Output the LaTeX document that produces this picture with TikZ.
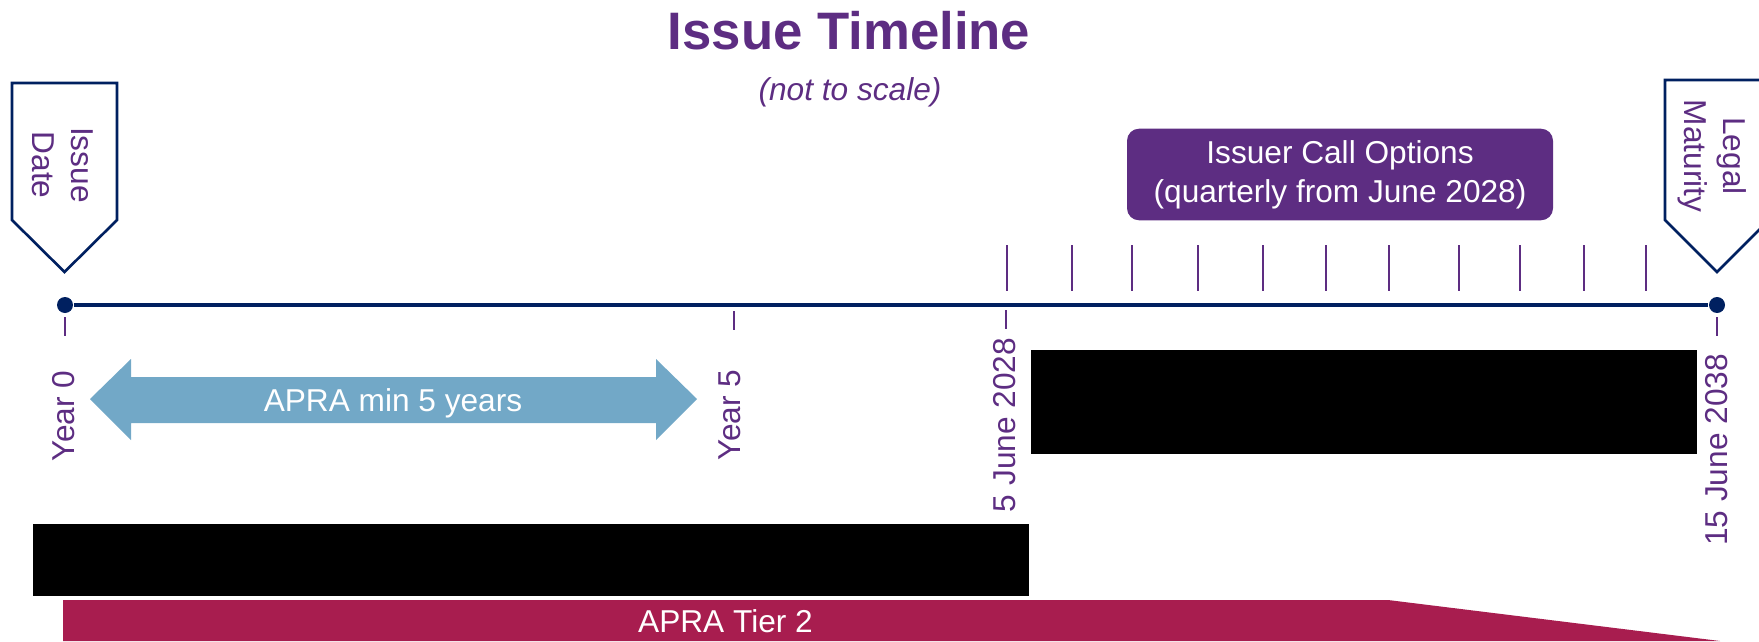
\documentclass[tikz,border=0pt]{standalone}
\usepackage{fontspec}
\setmainfont{Liberation Sans}
\definecolor{purp}{RGB}{93,45,130}
\definecolor{navy}{RGB}{0,32,96}
\definecolor{skyarrow}{RGB}{114,168,199}
\definecolor{tierred}{RGB}{168,29,79}

\begin{document}
\begin{tikzpicture}
        \tikzstyle{every node}=[font=\fontsize{9}{11}\selectfont,text=purp]
        \tikzstyle{flag}=[draw=navy,line width=0.75pt,fill=white]
        \tikzstyle{flaglabel}=[rotate=-90,align=center]
        \tikzstyle{datelabel}=[rotate=90]
        \tikzstyle{notch}=[purp,line width=0.6pt]
        \tikzstyle{enddot}=[circle,fill=navy,inner sep=0pt,minimum size=0.16cm]
        \clip (0,0) rectangle (17.59,-6.41);
        \node[anchor=base,font=\fontsize{15}{18}\selectfont\bfseries] (title) at (8.49,-0.50) {Issue Timeline};
        \node[anchor=base,font=\fontsize{9}{11}\selectfont\itshape] (scale) at (8.50,-1.01) {(not to scale)};
        \draw[flag] (0.12,-0.83) -- (1.17,-0.83) -- (1.17,-2.20) -- (0.645,-2.72) -- (0.12,-2.20) -- cycle;
        \node[flaglabel] (issue) at (0.63,-1.65) {Issue\\Date};
        \draw[flag] (16.65,-0.80) -- (17.69,-0.80) -- (17.69,-2.20) -- (17.17,-2.72) -- (16.65,-2.20) -- cycle;
        \node[flaglabel] (legal) at (17.12,-1.56) {Legal\\Maturity};
        \node[fill=purp,text=white,rounded corners=0.12cm,minimum width=4.26cm,minimum height=0.89cm,align=center] (calls) at (13.40,-1.745) {Issuer Call Options\\(quarterly from June 2028)};
        \foreach \x in {10.07,10.72,11.32,11.98,12.63,13.26,13.89,14.59,15.20,15.84,16.46}
          \draw[notch] (\x,-2.45) -- (\x,-2.91);
        \node[enddot] (start) at (0.65,-3.05) {};
        \node[enddot] (mat) at (17.17,-3.05) {};
        \draw[navy,line width=1.1pt] (start) -- (mat);
        \foreach \x/\y in {0.65/3.17,7.34/3.11,10.06/3.10,17.17/3.17}
          \draw[notch] (\x,-\y) -- (\x,-\y-0.19);
        \node[datelabel] (yr0) at (0.64,-4.16) {Year 0};
        \node[datelabel] (yr5) at (7.295,-4.15) {Year 5};
        \node[datelabel] (first) at (10.045,-4.25) {5 June 2028};
        \node[datelabel] (last) at (17.165,-4.50) {15 June 2038};
        \fill[skyarrow] (0.90,-3.99) -- (1.31,-3.59) -- (1.31,-3.77) -- (6.56,-3.77) -- (6.56,-3.59) -- (6.97,-3.99)
          -- (6.56,-4.40) -- (6.56,-4.23) -- (1.31,-4.23) -- (1.31,-4.40) -- cycle;
        \node[anchor=base,text=white] (minfive) at (3.93,-4.11) {APRA min 5 years};
        \fill[black] (10.31,-3.50) rectangle (16.97,-4.54);
        \fill[black] (0.33,-5.24) rectangle (10.29,-5.96);
        \fill[tierred] (0.63,-6.00) -- (13.88,-6.00) -- (17.20,-6.41) -- (0.63,-6.41) -- cycle;
        \node[anchor=base,text=white] (tier) at (7.255,-6.32) {APRA Tier 2};
\end{tikzpicture}
\end{document}
